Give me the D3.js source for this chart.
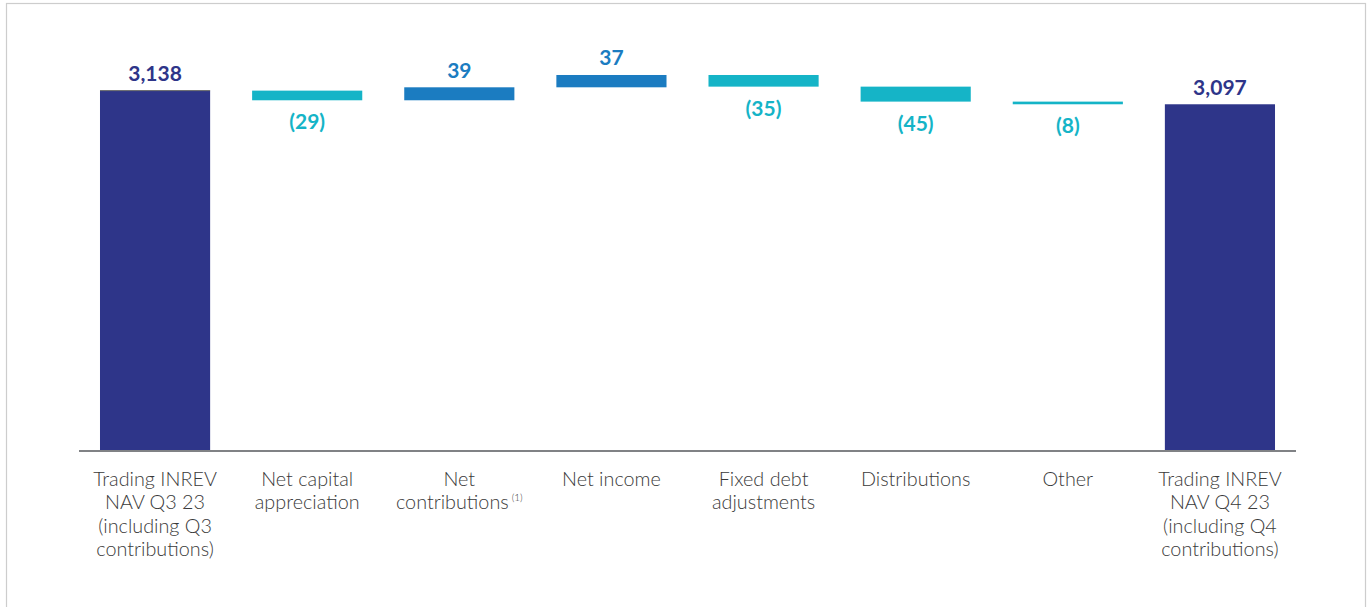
<!DOCTYPE html>
<html>
<head>
<meta charset="utf-8">
<script src="https://cdn.jsdelivr.net/npm/d3@7"></script>
<style>
  html, body { margin: 0; padding: 0; background: #fff; }
  svg { display: block; }
</style>
</head>
<body>
<svg id="chart" width="1370" height="607"></svg>
<script>
// Waterfall: NAV bridge from Q3 23 to Q4 23 (in millions)
const categories = [
  ["Trading INREV", "NAV Q3 23", "(including Q3", "contributions)"],
  ["Net capital", "appreciation"],
  ["Net", "contributions"],
  ["Net income"],
  ["Fixed debt", "adjustments"],
  ["Distributions"],
  ["Other"],
  ["Trading INREV", "NAV Q4 23", "(including Q4", "contributions)"]
];
const footnotes = ["", "", "(1)", "", "", "", "", ""];
const values = [3138, -29, 39, 37, -35, -45, -8, 3097];
const kinds = ["total", "delta", "delta", "delta", "delta", "delta", "delta", "total"];

const colors = { total: "#2E3589", up: "#1B7CC1", down: "#15B4C7" };

const svg = d3.select("#chart");

// card frame
svg.append("rect")
  .attr("x", 6.5).attr("y", 3.5)
  .attr("width", 1359).attr("height", 640)
  .attr("fill", "#fff").attr("stroke", "#cdcdcd").attr("stroke-width", 1.2);

// running totals for each step
let run = 0;
const rows = values.map((v, i) => {
  let lo, hi;
  if (kinds[i] === "total") { run = v; lo = null; hi = v; }
  else { const start = run; run += v; lo = Math.min(start, run); hi = Math.max(start, run); }
  return { i, v, kind: kinds[i], lo, hi, lines: categories[i], note: footnotes[i] };
});

const x = d3.scaleBand()
  .domain(d3.range(categories.length))
  .range([79, 1296])
  .paddingInner(0.276)
  .paddingOuter(0.138);

const baseY = 451;
const y = d3.scaleLinear().domain([2055, 3200]).range([baseY, 70]);

const fill = d => d.kind === "total" ? colors.total : (d.v >= 0 ? colors.up : colors.down);

// bars
svg.append("g").selectAll("rect")
  .data(rows).join("rect")
  .attr("x", d => x(d.i))
  .attr("width", x.bandwidth())
  .attr("y", d => y(d.hi))
  .attr("height", d => (d.lo === null ? baseY : y(d.lo)) - y(d.hi))
  .attr("fill", fill);

// hairline on the opening total
svg.append("line")
  .attr("x1", x(0)).attr("x2", x(0) + x.bandwidth())
  .attr("y1", y(rows[0].hi)).attr("y2", y(rows[0].hi))
  .attr("stroke", "#666").attr("stroke-width", 1);

// baseline
svg.append("line")
  .attr("x1", 79).attr("x2", 1296)
  .attr("y1", baseY).attr("y2", baseY)
  .attr("stroke", "#808285").attr("stroke-width", 2);

// value labels
const fmt = d3.format(",");
svg.append("g").selectAll("text")
  .data(rows).join("text")
  .attr("x", d => x(d.i) + x.bandwidth() / 2)
  .attr("y", d => d.v >= 0 ? y(d.hi) - 9.5 : y(d.lo) + 29)
  .attr("text-anchor", "middle")
  .attr("font-family", "Lato, 'Open Sans', sans-serif")
  .attr("font-weight", 700)
  .attr("font-size", 21)
  .attr("fill", fill)
  .text(d => d.v >= 0 ? fmt(d.v) : `(${fmt(-d.v)})`);

// category labels, one tspan per line; a footnote marker rides on the last line
const lab = svg.append("g").selectAll("text")
  .data(rows).join("text")
  .attr("y", 486)
  .attr("text-anchor", "middle")
  .attr("font-family", "Lato, 'Open Sans', sans-serif")
  .attr("font-weight", 300)
  .attr("font-size", 19.8)
  .attr("fill", "#3a3a3a");

lab.each(function(d) {
  const t = d3.select(this);
  const cx = x(d.i) + x.bandwidth() / 2;
  d.lines.forEach((ln, k) => {
    const ts = t.append("tspan")
      .attr("x", cx)
      .attr("dy", k === 0 ? 0 : 23.3);
    if (k === d.lines.length - 1 && d.note) {
      ts.append("tspan").text(ln);
      ts.append("tspan")
        .attr("font-size", 10)
        .attr("dx", 3)
        .attr("dy", -8)
        .text(d.note);
    } else {
      ts.text(ln);
    }
  });
});
</script>
</body>
</html>
